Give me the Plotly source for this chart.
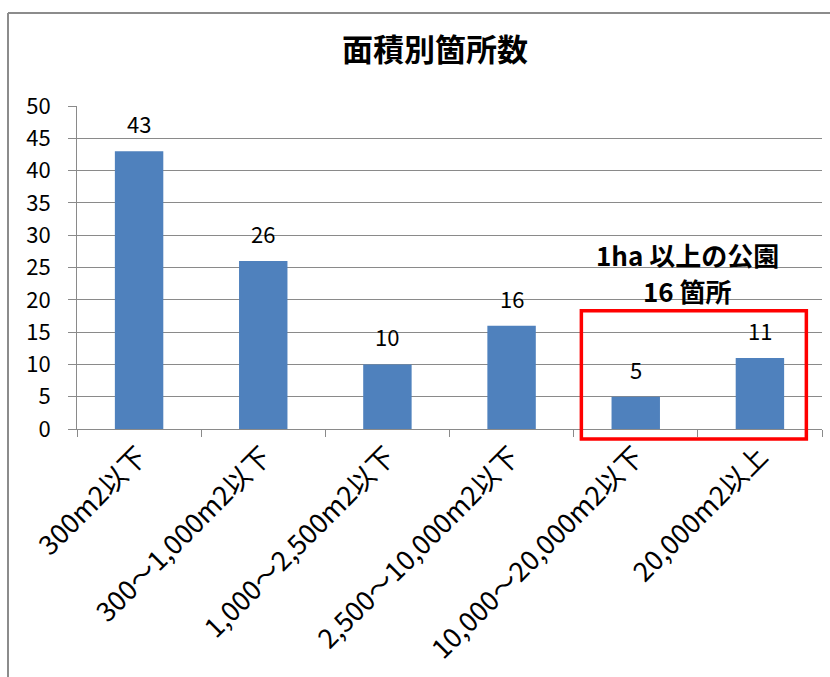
import plotly.graph_objects as go

categories = ["300m2以下", "300～1,000m2以下", "1,000～2,500m2以下",
              "2,500～10,000m2以下", "10,000～20,000m2以下", "20,000m2以上"]
counts = [43, 26, 10, 16, 5, 11]
title_text = "面積別箇所数"
note_lines = ["1ha 以上の公園", "16 箇所"]
y_ticks = [0, 5, 10, 15, 20, 25, 30, 35, 40, 45, 50]

FONT = "Noto Sans CJK JP"
GRID = "#8a8a8a"

fig = go.Figure()
fig.add_trace(go.Bar(
    x=categories, y=counts,
    marker=dict(color="#4F81BD", line=dict(width=0)),
    width=0.39,
    hoverinfo="skip",
))

annotations = []
for c, v in zip(categories, counts):
    annotations.append(dict(
        x=c, y=v, xref="x", yref="y", text=str(v), showarrow=False,
        yanchor="bottom", yshift=10,
        font=dict(family=FONT, size=22, color="#000000"),
    ))
for line, ypos in zip(note_lines, [0.539, 0.430]):
    annotations.append(dict(
        x=0.819, y=ypos, xref="paper", yref="paper", text=line,
        showarrow=False, xanchor="center", yanchor="middle",
        font=dict(family=FONT, size=26, color="#000000", weight="bold"),
    ))

fig.update_layout(
    width=830, height=677,
    margin=dict(l=77, r=8, t=106, b=248),
    paper_bgcolor="white", plot_bgcolor="white",
    showlegend=False,
    title=dict(text="<b>" + title_text + "</b>", x=0.524, xref="container",
               xanchor="center", y=1 - 50 / 677, yref="container", yanchor="middle",
               font=dict(family=FONT, size=31, color="#000000")),
    annotations=annotations,
    shapes=[
        dict(type="rect", xref="paper", yref="paper",
             x0=0.677, x1=0.979, y0=-0.031, y1=0.366,
             line=dict(color="#FF0000", width=3.5), fillcolor="rgba(0,0,0,0)"),
        dict(type="line", xref="paper", yref="paper",
             x0=(8 - 77) / 745, x1=(8 - 77) / 745, y0=(429 - 13) / 323, y1=-1,
             line=dict(color="#8c8c8c", width=2)),
        dict(type="line", xref="paper", yref="paper",
             x0=(8 - 77) / 745, x1=1.2, y0=(429 - 13) / 323, y1=(429 - 13) / 323,
             line=dict(color="#8c8c8c", width=2)),
    ],
)

fig.update_xaxes(
    type="category", automargin=False,
    showline=True, linecolor=GRID, linewidth=1,
    ticks="outside", tickson="boundaries", ticklen=7, tickcolor=GRID,
    tickangle=-45,
    tickfont=dict(family=FONT, size=27, color="#000000"),
    showgrid=False,
)
fig.update_yaxes(
    range=[0, 50], automargin=False,
    tickvals=y_ticks,
    showline=True, linecolor=GRID, linewidth=1,
    ticks="outside", ticklen=8, tickcolor=GRID,
    showgrid=True, gridcolor=GRID, gridwidth=1,
    zeroline=False,
    ticklabelstandoff=13,
    tickfont=dict(family=FONT, size=22, color="#000000"),
)

fig.write_html("out.html")
